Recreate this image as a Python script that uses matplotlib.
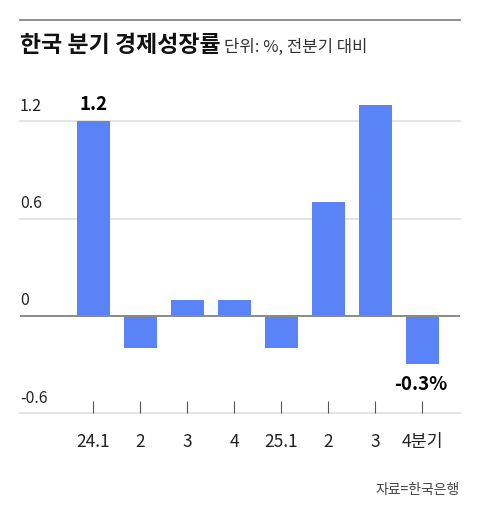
import matplotlib
matplotlib.use("Agg")
import matplotlib.pyplot as plt

plt.rcParams['font.family'] = ['Noto Sans CJK KR', 'DejaVu Sans']

quarters = ['24.1', '2', '3', '4', '25.1', '2', '3', '4분기']
growth = [1.2, -0.2, 0.1, 0.1, -0.2, 0.7, 1.3, -0.3]
yticks = [-0.6, 0, 0.6, 1.2]
ytick_labels = ['-0.6', '0', '0.6', '1.2']

bar_color = '#5b83f8'

fig = plt.figure(figsize=(4.8, 5.1), dpi=100)
ax = fig.add_axes([20 / 480, 96 / 510, 440 / 480, 316 / 510])

x = list(range(len(growth)))
ax.bar(x, growth, width=0.7, color=bar_color, zorder=2)

ax.set_xlim(-1.56, 7.8)
ax.set_ylim(-0.6, 1.35)

# gridlines + labels sitting on top of them
for v, lab in zip(yticks, ytick_labels):
    if v == 0:
        ax.axhline(v, color='#8a8a8a', lw=1.4, zorder=3)
    else:
        ax.axhline(v, color='#dddddd', lw=1.1, zorder=1, clip_on=False)
    ax.text(-1.56, v + 0.045, lab, ha='left', va='bottom', fontsize=11.5,
            color='#222222')

for s in ax.spines.values():
    s.set_visible(False)
ax.set_yticks([])
ax.set_xticks(x)
ax.set_xticklabels(quarters, fontsize=12.5, color='#222222')
ax.tick_params(axis='x', direction='in', length=9, width=0.8, color='#555555', pad=14)

# value labels
ax.text(0, 1.2 + 0.05, '1.2', ha='center', va='bottom', fontsize=13.5,
        fontweight='bold')
ax.text(6.97, -0.3 - 0.06, '-0.3%', ha='center', va='top', fontsize=13.5,
        fontweight='bold')

# top rule and title
fig.add_artist(plt.Line2D([20 / 480, 460 / 480], [1 - 21 / 510, 1 - 21 / 510],
                          color='#888888', lw=1.3))
fig.text(20 / 480, 1 - 46 / 510, '한국 분기 경제성장률', fontsize=16.5, fontweight='bold',
         va='center', ha='left', color='#111111')
fig.text(224 / 480, 1 - 47 / 510, '단위: %, 전분기 대비', fontsize=12,
         va='center', ha='left', color='#333333')
fig.text(460 / 480, 1 - 490 / 510, '자료=한국은행', fontsize=10,
         va='center', ha='right', color='#444444')

fig.savefig('out.png', dpi=100)
